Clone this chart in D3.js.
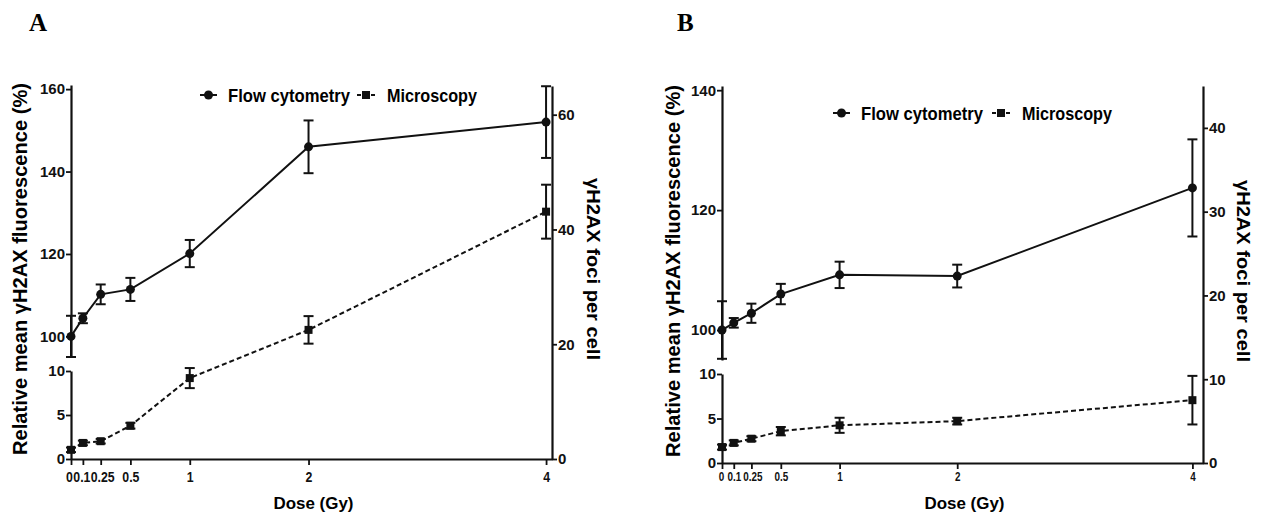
<!DOCTYPE html>
<html>
<head>
<meta charset="utf-8">
<script src="https://cdn.jsdelivr.net/npm/d3@7"></script>
<style>
  body { margin: 0; background: #fff; }
  svg { display: block; font-family: "Liberation Sans", Arial, sans-serif; }
</style>
</head>
<body>
<svg id="chart" width="1263" height="516"></svg>
<script>
// data
const doses = [0, 0.1, 0.25, 0.5, 1, 2, 4];
const doseTickLabels = ["0", "0.1", "0.25", "0.5", "1", "2", "4"];

const flowA = [100, 104.4, 110.2, 111.4, 120.1, 146, 152];
const flowErrA = [5, 1.2, 2.4, 2.8, 3.3, 6.4, 8.7];
const microA = [1.6, 2.8, 3.1, 5.8, 14.1, 22.5, 43.1];
const microErrA = [0.4, 0.4, 0.4, 0.5, 1.75, 2.4, 4.7];

const flowB = [100, 101.2, 102.8, 106, 109.2, 109, 123.7];
const flowErrB = [4.8, 0.8, 1.6, 1.7, 2.2, 1.9, 8.1];
const microB = [1.9, 2.4, 2.9, 3.8, 4.5, 5.0, 7.5];
const microErrB = [0.3, 0.3, 0.3, 0.5, 0.9, 0.4, 2.9];

const upperTicksA = [100, 120, 140, 160];
const upperTicksB = [100, 120, 140];
const lowerTicks = [0, 5, 10];
const rightTicksA = [0, 20, 40, 60];
const rightTicksB = [0, 10, 20, 30, 40];

const svg = d3.select("#chart");

// layout of each panel (pixels)
const panels = [
  { letter: "A", lx: 29, flow: flowA, flowErr: flowErrA, micro: microA, microErr: microErrA,
    x0: 71, x1: 552, xMax: 4.05, base: 459,
    top: [95, 161], topPx: [357, 85], topTicks: upperTicksA,
    lowTop: 371, rMax: 65, rTop: 86, rightTicks: rightTicksA,
    xFont: 14, xTickGap: 5, xShift: [-2, -1.5, 1.5, 0, 0, 0, 0], xSquash: 0.88,
    legX: 200, legY: 95, legX2: 357, ylabX: 27, rlabX: 587, midY: 269 },
  { letter: "B", lx: 677, flow: flowB, flowErr: flowErrB, micro: microB, microErr: microErrB,
    x0: 722, x1: 1203, xMax: 4.09, base: 463,
    top: [95, 140.7], topPx: [360, 86], topTicks: upperTicksB,
    lowTop: 374, rMax: 45, rTop: 86, rightTicks: rightTicksB,
    xFont: 11, xTickGap: 3, xShift: [-1, 0, 1, 0, 0, 0, 0], xSquash: 0.9,
    legX: 833, legY: 113, legX2: 992, ylabX: 680, rlabX: 1237, midY: 271 }
];

function styleAxis(sel, fs) {
  sel.select(".domain").attr("stroke", "#111").attr("stroke-width", 2.2);
  sel.selectAll(".tick line").attr("stroke", "#111").attr("stroke-width", 1.8);
  sel.selectAll(".tick text")
     .attr("fill", "#111")
     .style("font-family", "'Liberation Sans', Arial, sans-serif")
     .style("font-size", fs + "px")
     .style("font-weight", "bold");
}

function errorBars(g, x, y, vals, errs) {
  const eb = g.append("g").attr("stroke", "#111").attr("stroke-width", 2);
  doses.forEach((d, i) => {
    const cx = x(d), yt = y(vals[i] + errs[i]), yb = y(vals[i] - errs[i]);
    eb.append("line").attr("x1", cx).attr("x2", cx).attr("y1", yt).attr("y2", yb);
    eb.append("line").attr("x1", cx - 5).attr("x2", cx + 5).attr("y1", yt).attr("y2", yt);
    eb.append("line").attr("x1", cx - 5).attr("x2", cx + 5).attr("y1", yb).attr("y2", yb);
  });
}

panels.forEach(p => {
  const g = svg.append("g");
  const x = d3.scaleLinear().domain([0, p.xMax]).range([p.x0, p.x1]);
  const yTop = d3.scaleLinear().domain(p.top).range(p.topPx);
  const yLow = d3.scaleLinear().domain([0, 10]).range([p.base, p.lowTop]);
  const yR = d3.scaleLinear().domain([0, p.rMax]).range([p.base, p.rTop]);

  // axes
  g.append("g").attr("transform", `translate(${p.x0},0)`)
    .call(d3.axisLeft(yTop).tickValues(p.topTicks).tickSize(5).tickSizeOuter(0).tickPadding(1))
    .call(s => styleAxis(s, 15));
  g.append("g").attr("transform", `translate(${p.x0},0)`)
    .call(d3.axisLeft(yLow).tickValues(lowerTicks).tickSize(5).tickSizeOuter(0).tickPadding(1))
    .call(s => styleAxis(s, 15));
  g.append("g").attr("transform", `translate(${p.x1},0)`)
    .call(d3.axisRight(yR).tickValues(p.rightTicks).tickSize(5).tickSizeOuter(0).tickPadding(1))
    .call(s => styleAxis(s, 15));
  const xAxis = g.append("g").attr("transform", `translate(0,${p.base})`)
    .call(d3.axisBottom(x).tickValues(doses).tickFormat((d, i) => doseTickLabels[i])
      .tickSize(6).tickSizeOuter(0).tickPadding(p.xTickGap))
    .call(s => styleAxis(s, p.xFont));
  xAxis.selectAll(".tick text")
    .attr("transform", (d, i) => `translate(${p.xShift[i]},0) scale(${p.xSquash},1.08)`);

  // flow cytometry (left upper axis)
  errorBars(g, x, yTop, p.flow, p.flowErr);
  g.append("path")
    .datum(doses.map((d, i) => [d, p.flow[i]]))
    .attr("fill", "none").attr("stroke", "#111").attr("stroke-width", 2)
    .attr("d", d3.line().x(d => x(d[0])).y(d => yTop(d[1])));
  g.append("g").selectAll("circle")
    .data(doses.map((d, i) => [d, p.flow[i]]))
    .join("circle")
    .attr("cx", d => x(d[0])).attr("cy", d => yTop(d[1])).attr("r", 4.5).attr("fill", "#111");

  // microscopy (right axis)
  errorBars(g, x, yR, p.micro, p.microErr);
  g.append("path")
    .datum(doses.map((d, i) => [d, p.micro[i]]))
    .attr("fill", "none").attr("stroke", "#111").attr("stroke-width", 2)
    .attr("stroke-dasharray", "5,3")
    .attr("d", d3.line().x(d => x(d[0])).y(d => yR(d[1])));
  g.append("g").selectAll("rect")
    .data(doses.map((d, i) => [d, p.micro[i]]))
    .join("rect")
    .attr("x", d => x(d[0]) - 4).attr("y", d => yR(d[1]) - 4)
    .attr("width", 8).attr("height", 8).attr("fill", "#111");

  // legend
  const leg = g.append("g");
  leg.append("line").attr("x1", p.legX).attr("x2", p.legX + 17)
    .attr("y1", p.legY).attr("y2", p.legY).attr("stroke", "#111").attr("stroke-width", 2);
  leg.append("circle").attr("cx", p.legX + 8.5).attr("cy", p.legY).attr("r", 4.5).attr("fill", "#111");
  leg.append("text").attr("x", p.legX + 28).attr("y", p.legY + 6.5)
    .attr("font-size", 18).attr("font-weight", "bold")
    .attr("textLength", 122).attr("lengthAdjust", "spacingAndGlyphs")
    .text("Flow cytometry");
  leg.append("line").attr("x1", p.legX2).attr("x2", p.legX2 + 18)
    .attr("y1", p.legY).attr("y2", p.legY).attr("stroke", "#111").attr("stroke-width", 2)
    .attr("stroke-dasharray", "4,3");
  leg.append("rect").attr("x", p.legX2 + 5).attr("y", p.legY - 4)
    .attr("width", 8).attr("height", 8).attr("fill", "#111");
  leg.append("text").attr("x", p.legX2 + 30).attr("y", p.legY + 6.5)
    .attr("font-size", 18).attr("font-weight", "bold")
    .attr("textLength", 90).attr("lengthAdjust", "spacingAndGlyphs")
    .text("Microscopy");

  // titles
  g.append("text")
    .attr("transform", `translate(${p.ylabX},${p.midY}) rotate(-90)`)
    .attr("text-anchor", "middle").attr("font-size", 19.5).attr("font-weight", "bold")
    .attr("textLength", 372).attr("lengthAdjust", "spacingAndGlyphs")
    .text("Relative mean γH2AX fluorescence (%)");
  g.append("text")
    .attr("transform", `translate(${p.rlabX},${p.midY}) rotate(90)`)
    .attr("text-anchor", "middle").attr("font-size", 18).attr("font-weight", "bold")
    .attr("textLength", 182).attr("lengthAdjust", "spacingAndGlyphs")
    .text("γH2AX foci per cell");
  g.append("text")
    .attr("x", (p.x0 + p.x1) / 2 + 2).attr("y", 509)
    .attr("text-anchor", "middle").attr("font-size", 17).attr("font-weight", "bold")
    .attr("textLength", 80).attr("lengthAdjust", "spacingAndGlyphs")
    .text("Dose (Gy)");
  g.append("text")
    .attr("x", p.lx).attr("y", 31)
    .style("font-family", "'Liberation Serif', 'Times New Roman', serif")
    .attr("font-size", 25).attr("font-weight", "bold")
    .text(p.letter);
});
</script>
</body>
</html>
